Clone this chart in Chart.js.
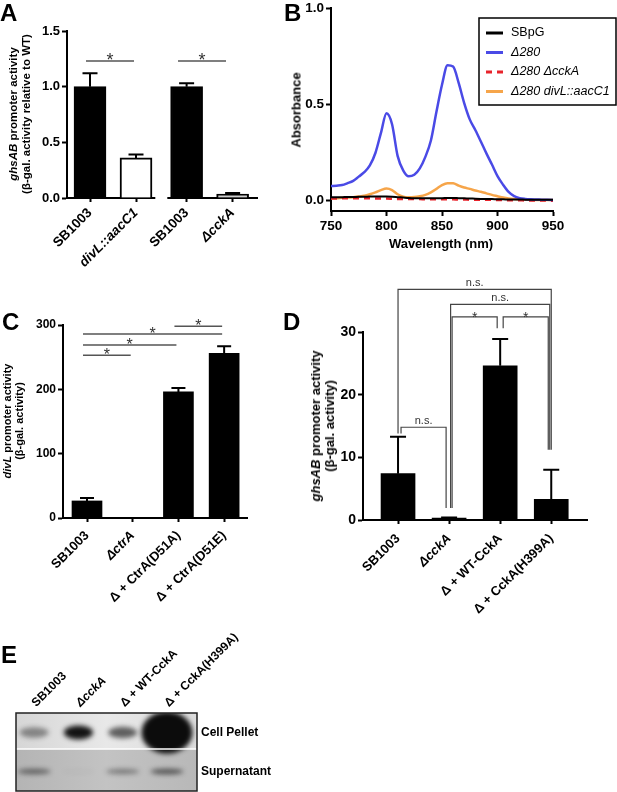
<!DOCTYPE html>
<html>
<head>
<meta charset="utf-8">
<script src="https://cdn.jsdelivr.net/npm/chart.js@4.4.0/dist/chart.umd.min.js"></script>
<style>
  body { margin: 0; background: #fff; font-family: "Liberation Sans", Arial, sans-serif; }
  #fig { position: relative; width: 617px; height: 792px; overflow: hidden; background: #fff; }
  canvas { position: absolute; }
  .panel { position: absolute; font-weight: bold; font-size: 24px; line-height: 24px; }
  .yt { position: absolute; font-weight: bold; white-space: nowrap; text-align: center;
        transform: translate(-50%, -50%) rotate(-90deg); }
  .xt { position: absolute; font-weight: bold; white-space: nowrap; transform: translate(-50%, -50%); }
</style>
</head>
<body>
<div id="fig">
  <canvas id="cA" width="290" height="270" style="left:0;top:0"></canvas>
  <canvas id="cB" width="327" height="262" style="left:290px;top:0"></canvas>
  <canvas id="cC" width="290" height="345" style="left:0;top:270px"></canvas>
  <canvas id="cD" width="327" height="355" style="left:290px;top:270px"></canvas>
  <canvas id="cE" width="300" height="162" style="left:0;top:630px"></canvas>

  <div class="panel" style="left:0;top:1px">A</div>
  <div class="panel" style="left:284px;top:1px">B</div>
  <div class="panel" style="left:2px;top:310px">C</div>
  <div class="panel" style="left:283px;top:310px">D</div>
  <div class="panel" style="left:1px;top:643px">E</div>

  <div class="yt" style="left:19px;top:114px;font-size:11.5px;line-height:12.5px"><i>ghsAB</i> promoter activity<br>(β-gal. activity relative to WT)</div>
  <div class="yt" style="left:296px;top:110px;font-size:13px">Absorbance</div>
  <div class="xt" style="left:441px;top:243px;font-size:13px">Wavelength (nm)</div>
  <div class="yt" style="left:13px;top:421px;font-size:11px;line-height:11.5px"><i>divL</i> promoter activity<br>(β-gal. activity)</div>
  <div class="yt" style="left:323px;top:426px;font-size:13px;line-height:14px"><i>ghsAB</i> promoter activity<br>(β-gal. activity)</div>
</div>

<script>
// ---- panel A : ghsAB promoter activity, relative to WT
const aLabels = ['SB1003', 'divL::aacC1', 'SB1003', 'ΔcckA'];
const aItalic = [false, true, false, true];
const aValues = [1.0, 0.36, 1.0, 0.035];
const aErrors = [0.12, 0.03, 0.03, 0.01];
const aColors = ['#000', '#fff', '#000', '#cfcfcf'];
const aYTicks = [0, 0.5, 1.0, 1.5];
const aSig = [{ from: 0, to: 1, y: 1.23, label: '*' }, { from: 2, to: 3, y: 1.23, label: '*' }];

// ---- panel B : absorbance spectra
const bWavelength = [750, 755, 760, 765, 770, 775, 780, 785, 790, 795, 800, 805, 810, 815, 820, 825, 830, 835, 840, 845,
  850, 855, 860, 865, 870, 875, 880, 885, 890, 895, 900, 905, 910, 915, 920, 925, 930, 935, 940, 945, 950];
const bSBpG = [0.015, 0.015, 0.015, 0.016, 0.016, 0.017, 0.017, 0.018, 0.018, 0.018, 0.018, 0.017, 0.015, 0.013, 0.011,
  0.010, 0.010, 0.010, 0.010, 0.010, 0.010, 0.011, 0.011, 0.010, 0.009, 0.008, 0.007, 0.006, 0.005, 0.005, 0.004,
  0.004, 0.003, 0.003, 0.003, 0.002, 0.002, 0.002, 0.001, 0.001, 0.001];
const bD280 = [0.073, 0.075, 0.078, 0.088, 0.100, 0.122, 0.145, 0.180, 0.245, 0.350, 0.452, 0.395, 0.230, 0.155, 0.124,
  0.132, 0.165, 0.225, 0.310, 0.460, 0.600, 0.702, 0.695, 0.610, 0.505, 0.420, 0.365, 0.305, 0.243, 0.185, 0.125,
  0.080, 0.042, 0.020, 0.010, 0.006, 0.004, 0.003, 0.002, 0.001, 0.0];
const bD280cckA = [0.008, 0.008, 0.009, 0.009, 0.009, 0.009, 0.009, 0.009, 0.008, 0.008, 0.008, 0.007, 0.006, 0.005,
  0.005, 0.005, 0.005, 0.004, 0.004, 0.004, 0.004, 0.004, 0.004, 0.003, 0.003, 0.002, 0.002, 0.002, 0.001, 0.001,
  0.0, 0.0, -0.001, -0.001, -0.001, -0.002, -0.002, -0.002, -0.002, -0.003, -0.003];
const bD280divL = [0.010, 0.010, 0.012, 0.013, 0.015, 0.018, 0.022, 0.030, 0.040, 0.052, 0.060, 0.052, 0.030, 0.018,
  0.015, 0.016, 0.020, 0.027, 0.040, 0.058, 0.078, 0.088, 0.087, 0.075, 0.065, 0.058, 0.050, 0.043, 0.035, 0.027,
  0.020, 0.013, 0.008, 0.005, 0.003, 0.002, 0.001, 0.0, 0.0, 0.0, 0.0];
const bNames = ['SBpG', 'Δ280', 'Δ280 ΔcckA', 'Δ280 divL::aacC1'];
const bXTicks = [750, 800, 850, 900, 950];
const bYTicks = [0, 0.5, 1.0];

// ---- panel C : divL promoter activity
const cLabels = ['SB1003', 'ΔctrA', 'Δ + CtrA(D51A)', 'Δ + CtrA(D51E)'];
const cItalic = [false, true, false, false];
const cValues = [26.5, 0, 196, 256];
const cErrors = [4.5, 0, 6, 11];
const cYTicks = [0, 100, 200, 300];
const cSig = [
  { from: 0, to: 1, y: 253, label: '*' },
  { from: 0, to: 2, y: 269, label: '*' },
  { from: 0, to: 3, y: 286, label: '*' },
  { from: 2, to: 3, y: 298, label: '*' }
];

// ---- panel D : ghsAB promoter activity
const dLabels = ['SB1003', 'ΔcckA', 'Δ + WT-CckA', 'Δ + CckA(H399A)'];
const dItalic = [false, true, false, false];
const dValues = [7.4, 0.3, 24.6, 3.3];
const dErrors = [5.9, 0.1, 4.3, 4.7];
const dYTicks = [0, 10, 20, 30];
const dBrackets = [
  { from: 0, to: 3, y: 36.8, label: 'n.s.' },
  { from: 1, to: 3, y: 34.4, label: 'n.s.' },
  { from: 1, to: 2, y: 32.4, label: '*' },
  { from: 2, to: 3, y: 32.4, label: '*' },
  { from: 0, to: 1, y: 14.8, label: 'n.s.' }
];
const dLegEnd = [13.8, 1.9, 30.6, 11.2];

// ---- panel E : western blot (relative band signal)
const eLanes = ['SB1003', 'ΔcckA', 'Δ + WT-CckA', 'Δ + CckA(H399A)'];
const eItalic = [false, true, false, false];
const eRows = ['Cell Pellet', 'Supernatant'];
const ePellet = [0.42, 0.97, 0.62, 3.0];
const eSuper = [0.5, 0.03, 0.42, 0.6];

const FONT = '"Liberation Sans", Arial, sans-serif';
Chart.defaults.font.family = FONT;
Chart.defaults.color = '#000';

// fixed axis sizes so the plot areas land where the figure has them
function fixW(w) { return s => { s.width = w; s.paddingTop = 0; s.paddingBottom = 0; }; }
function fixH(h) { return s => { s.height = h; s.paddingLeft = 0; s.paddingRight = 0; }; }
function setTicks(vals) { return s => { s.ticks = vals.map(v => ({ value: v })); }; }

function errorBarsPlugin(errs, cap) {
  return {
    id: 'errorBars',
    afterDatasetsDraw(chart) {
      const { ctx } = chart;
      const y = chart.scales.y;
      const data = chart.data.datasets[0].data;
      ctx.save();
      ctx.strokeStyle = '#000';
      ctx.lineWidth = 2;
      chart.getDatasetMeta(0).data.forEach((bar, i) => {
        if (!errs[i]) return;
        const top = y.getPixelForValue(data[i].y + errs[i]);
        ctx.beginPath();
        ctx.moveTo(bar.x, bar.y);
        ctx.lineTo(bar.x, top);
        ctx.moveTo(bar.x - cap / 2, top);
        ctx.lineTo(bar.x + cap / 2, top);
        ctx.stroke();
      });
      ctx.restore();
    }
  };
}

function sigLinesPlugin(list, starSize) {
  return {
    id: 'sigLines',
    afterDraw(chart) {
      const { ctx, scales: { x, y } } = chart;
      ctx.save();
      ctx.strokeStyle = '#555';
      ctx.lineWidth = 1.5;
      ctx.fillStyle = '#333';
      ctx.textAlign = 'center';
      ctx.textBaseline = 'alphabetic';
      ctx.font = starSize + 'px ' + FONT;
      list.forEach(s => {
        const x1 = x.getPixelForValue(s.from) - 4, x2 = x.getPixelForValue(s.to) - 2;
        const yy = y.getPixelForValue(s.y);
        ctx.beginPath();
        ctx.moveTo(x1, yy);
        ctx.lineTo(x2, yy);
        ctx.stroke();
        ctx.fillText(s.label, (x1 + x2) / 2, yy + starSize * 0.3);
      });
      ctx.restore();
    }
  };
}

// the x axis of panel A is broken between the two pairs
const axisBreak = {
  id: 'axisBreak',
  afterDraw(chart) {
    const { ctx, chartArea, scales: { x } } = chart;
    const mid = x.getPixelForValue(1.55);
    ctx.save();
    ctx.fillStyle = '#fff';
    ctx.fillRect(mid - 6, chartArea.bottom - 2, 12, 4);
    ctx.restore();
  }
};

function barOptions(o) {
  return {
    responsive: false,
    animation: false,
    layout: { autoPadding: false, padding: o.pad },
    plugins: { legend: { display: false }, tooltip: { enabled: false } },
    scales: {
      x: {
        type: 'linear', min: o.xmin, max: o.xmax, offset: false,
        afterBuildTicks: setTicks(o.labels.map((l, i) => o.pos[i])),
        afterFit: fixH(o.xh),
        grid: { offset: false, drawOnChartArea: false, tickLength: 4, tickWidth: 2, tickColor: '#000' },
        border: { color: '#000', width: 2 },
        ticks: {
          autoSkip: false, minRotation: 45, maxRotation: 45, padding: o.xpad,
          callback: (v, i) => o.labels[i],
          font: c => ({ size: o.xfont, weight: 'bold', style: o.italic[c.index] ? 'italic' : 'normal' })
        }
      },
      y: {
        min: o.yticks[0], max: o.yticks[o.yticks.length - 1],
        afterBuildTicks: setTicks(o.yticks),
        afterFit: fixW(o.yw),
        grid: { drawOnChartArea: false, tickLength: 5, tickWidth: 2, tickColor: '#000' },
        border: { color: '#000', width: 2 },
        ticks: { padding: 2, font: { size: o.yfont, weight: 'bold' }, callback: o.yfmt }
      }
    }
  };
}

// ---- A
const aPos = [0, 1, 2.1, 3.1];
new Chart(document.getElementById('cA'), {
  type: 'bar',
  data: {
    datasets: [{
      data: aValues.map((v, i) => ({ x: aPos[i], y: v })),
      backgroundColor: aColors, borderColor: '#000', borderWidth: 2, barThickness: 32
    }]
  },
  options: barOptions({
    pad: { left: 27, top: 31, right: 33, bottom: 0 }, xmin: -0.5, xmax: 3.63, pos: aPos, labels: aLabels,
    italic: aItalic, xh: 72, xpad: 3, xfont: 13.5, yticks: aYTicks, yw: 40, yfont: 13, yfmt: v => v.toFixed(1)
  }),
  plugins: [errorBarsPlugin(aErrors, 15), sigLinesPlugin(aSig, 18), axisBreak]
});

// ---- C
const cPos = [0, 1, 2, 3];
new Chart(document.getElementById('cC'), {
  type: 'bar',
  data: {
    datasets: [{
      data: cValues.map((v, i) => ({ x: cPos[i], y: v })),
      backgroundColor: '#000', borderColor: '#000', borderWidth: 0, barThickness: 30
    }]
  },
  options: barOptions({
    pad: { left: 23, top: 55, right: 43, bottom: 0 }, xmin: -0.525, xmax: 3.5, pos: cPos, labels: cLabels,
    italic: cItalic, xh: 97, xpad: 6, xfont: 13, yticks: cYTicks, yw: 40, yfont: 12, yfmt: v => v
  }),
  plugins: [errorBarsPlugin(cErrors, 14), sigLinesPlugin(cSig, 16)]
});

// ---- D
function bracketsPlugin(list, legEnd) {
  return {
    id: 'brackets',
    afterDraw(chart) {
      const { ctx, scales: { x, y } } = chart;
      ctx.save();
      ctx.strokeStyle = '#444';
      ctx.lineWidth = 1.2;
      ctx.fillStyle = '#333';
      ctx.textAlign = 'center';
      ctx.textBaseline = 'alphabetic';
      list.forEach(b => {
        const off = (3 - (b.to - b.from)) * 1.5;
        const x1 = x.getPixelForValue(b.from) + off, x2 = x.getPixelForValue(b.to) - off;
        const yy = y.getPixelForValue(b.y);
        ctx.beginPath();
        ctx.moveTo(x1, y.getPixelForValue(legEnd[b.from]));
        ctx.lineTo(x1, yy);
        ctx.lineTo(x2, yy);
        ctx.lineTo(x2, y.getPixelForValue(legEnd[b.to]));
        ctx.stroke();
        if (b.label === '*') {
          ctx.font = '14px ' + FONT;
          ctx.fillText(b.label, (x1 + x2) / 2, yy + 5);
        } else {
          ctx.font = '11px ' + FONT;
          ctx.fillText(b.label, (x1 + x2) / 2, yy - 3);
        }
      });
      ctx.restore();
    }
  };
}
const dPos = [0, 1, 2, 3];
new Chart(document.getElementById('cD'), {
  type: 'bar',
  data: {
    datasets: [{
      data: dValues.map((v, i) => ({ x: dPos[i], y: v })),
      backgroundColor: '#000', borderColor: '#000', borderWidth: 0, barThickness: 34
    }]
  },
  options: barOptions({
    pad: { left: 33, top: 62, right: 30, bottom: 0 }, xmin: -0.686, xmax: 3.7, pos: dPos, labels: dLabels,
    italic: dItalic, xh: 105, xpad: 7, xfont: 13, yticks: dYTicks, yw: 40, yfont: 14, yfmt: v => v
  }),
  plugins: [errorBarsPlugin(dErrors, 16), bracketsPlugin(dBrackets, dLegEnd)]
});

// ---- B
const bColors = ['#000', '#4a4ae6', '#e8232b', '#f6a54a'];
const bSeries = [bSBpG, bD280, bD280cckA, bD280divL];
const legendBox = {
  id: 'legendBox',
  afterDraw(chart) {
    const { ctx } = chart;
    const x = 189, y = 18, w = 137, h = 87;
    ctx.save();
    ctx.strokeStyle = '#000';
    ctx.lineWidth = 1.5;
    ctx.strokeRect(x, y, w, h);
    ctx.textBaseline = 'middle';
    chart.data.datasets.forEach((ds, i) => {
      const yy = y + 15 + i * 19.5;
      ctx.beginPath();
      ctx.strokeStyle = ds.borderColor;
      ctx.lineWidth = 3;
      ctx.setLineDash(ds.borderDash || []);
      ctx.moveTo(x + 7, yy);
      ctx.lineTo(x + 24, yy);
      ctx.stroke();
      ctx.setLineDash([]);
      ctx.fillStyle = '#000';
      ctx.font = (i > 0 ? 'italic ' : '') + '12.5px ' + FONT;
      ctx.fillText(ds.label, x + 32, yy);
    });
    ctx.restore();
  }
};
new Chart(document.getElementById('cB'), {
  type: 'line',
  data: {
    datasets: bSeries.map((s, i) => ({
      label: bNames[i],
      data: s.map((v, j) => ({ x: bWavelength[j], y: v })),
      borderColor: bColors[i],
      borderWidth: i === 0 ? 2 : 2.5,
      borderDash: i === 2 ? [6, 5] : [],
      pointRadius: 0,
      cubicInterpolationMode: 'monotone'
    }))
  },
  options: {
    responsive: false,
    animation: false,
    layout: { autoPadding: false, padding: { left: 9, top: 8, right: 64, bottom: 0 } },
    plugins: { legend: { display: false }, tooltip: { enabled: false } },
    scales: {
      x: {
        type: 'linear', min: 750, max: 950,
        afterBuildTicks: setTicks(bXTicks), afterFit: fixH(51),
        grid: { drawOnChartArea: false, tickLength: 5, tickWidth: 2, tickColor: '#000' },
        border: { color: '#000', width: 2 },
        ticks: { padding: 2, maxRotation: 0, font: { size: 13.5, weight: 'bold' } }
      },
      y: {
        min: -0.057, max: 1.0,
        afterBuildTicks: setTicks(bYTicks), afterFit: fixW(32),
        grid: { drawOnChartArea: false, tickLength: 5, tickWidth: 2, tickColor: '#000' },
        border: { color: '#000', width: 2 },
        ticks: { padding: 2, font: { size: 13.5, weight: 'bold' }, callback: v => v.toFixed(1) }
      }
    }
  },
  plugins: [legendBox]
});

// ---- E
function drawBand(ctx, cx, cy, s, w0, h0) {
  const k = Math.min(s, 1), extra = Math.max(s - 1, 0);
  const rw = w0 / 2 + 5.5 * extra;
  const rh = (h0 / 2) * (0.55 + 0.45 * k) + 7 * extra;
  ctx.fillStyle = 'rgba(12,12,12,' + k + ')';
  ctx.beginPath();
  ctx.ellipse(cx, cy, rw, rh, 0, 0, Math.PI * 2);
  ctx.fill();
}
const blot = {
  id: 'blot',
  beforeDatasetsDraw(chart) {
    const { ctx, chartArea: a, scales: { x, y } } = chart;
    const w = a.right - a.left, h = a.bottom - a.top;
    const split = a.top + h * 0.46;
    ctx.save();
    let g = ctx.createLinearGradient(a.left, 0, a.right, 0);
    g.addColorStop(0, '#d6d6d6');
    g.addColorStop(0.5, '#e8e8e8');
    g.addColorStop(1, '#dcdcdc');
    ctx.fillStyle = g;
    ctx.fillRect(a.left, a.top, w, split - a.top);
    g = ctx.createLinearGradient(a.left, 0, a.right, 0);
    g.addColorStop(0, '#b4b4b4');
    g.addColorStop(0.5, '#c3c3c3');
    g.addColorStop(1, '#b8b8b8');
    ctx.fillStyle = g;
    ctx.fillRect(a.left, split, w, a.bottom - split);
    ctx.beginPath();
    ctx.rect(a.left, a.top, w, h);
    ctx.clip();
    ctx.filter = 'blur(2.5px)';
    ePellet.forEach((s, i) => drawBand(ctx, x.getPixelForValue(i), y.getPixelForValue(0), s, 29, 14));
    eSuper.forEach((s, i) => drawBand(ctx, x.getPixelForValue(i), y.getPixelForValue(1), s, 33, 7));
    ctx.filter = 'none';
    ctx.strokeStyle = '#fff';
    ctx.lineWidth = 1.5;
    ctx.beginPath();
    ctx.moveTo(a.left, split);
    ctx.lineTo(a.right, split);
    ctx.stroke();
    ctx.restore();
    ctx.save();
    ctx.strokeStyle = '#222';
    ctx.lineWidth = 1.5;
    ctx.strokeRect(a.left, a.top, w, h);
    ctx.restore();
  }
};
const ePos = [0, 1, 2, 3];
new Chart(document.getElementById('cE'), {
  type: 'scatter',
  data: {
    datasets: eRows.map(r => ({ data: ePos.map(p => ({ x: p, y: r })), pointRadius: 0 }))
  },
  options: {
    responsive: false,
    animation: false,
    layout: { autoPadding: false, padding: { left: 16, top: 0, right: 0, bottom: 1 } },
    plugins: { legend: { display: false }, tooltip: { enabled: false } },
    scales: {
      x: {
        type: 'linear', position: 'top', min: -0.41, max: 3.68,
        afterBuildTicks: setTicks(ePos), afterFit: fixH(83),
        grid: { display: false }, border: { display: false },
        ticks: {
          autoSkip: false, minRotation: 45, maxRotation: 45, padding: -5, labelOffset: 10,
          callback: (v, i) => eLanes[i],
          font: c => ({ size: 12, weight: 'bold', style: eItalic[c.index] ? 'italic' : 'normal' })
        }
      },
      y: {
        type: 'category', labels: eRows, position: 'right', offset: true,
        afterFit: fixW(103),
        grid: { display: false }, border: { display: false },
        ticks: { padding: -4, font: { size: 12, weight: 'bold' } }
      }
    }
  },
  plugins: [blot]
});
</script>
</body>
</html>
